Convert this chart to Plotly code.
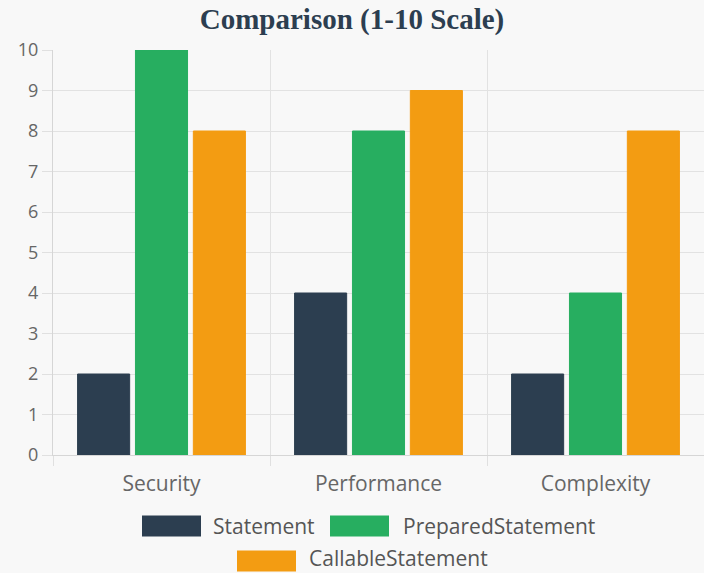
import plotly.graph_objects as go

categories = ["Security", "Performance", "Complexity"]
series_names = ["Statement", "PreparedStatement", "CallableStatement"]
statement = [2, 4, 2]
prepared = [10, 8, 4]
callable_ = [8, 9, 8]
colors = ["#2c3e50", "#27ae60", "#f39c12"]
y_ticks = list(range(0, 11))

W, H = 704, 573
ML, MR, MT, MB = 53, 0, 50, 118
PW, PH = W - ML - MR, H - MT - MB

fig = go.Figure()
for name, vals, col in zip(series_names, [statement, prepared, callable_], colors):
    fig.add_trace(go.Bar(x=categories, y=vals, name=name,
                         marker=dict(color=col, line=dict(color=col, width=1)),
                         showlegend=False))

def px_x(p):
    return (p - ML) / PW

def px_y(p):
    return (H - MB - p) / PH

# manual legend (wide swatches like the original)
legend_rows = [
    [(0, 142, 211), (1, 330, 401)],
    [(2, 237, 307)],
]
row_y = [526, 561]
text_y = [526, 558]
shapes = []
annotations = []
for r, items in enumerate(legend_rows):
    cy = row_y[r]
    for idx, bx, tx in items:
        shapes.append(dict(type="rect", xref="paper", yref="paper",
                           x0=px_x(bx), x1=px_x(bx + 59),
                           y0=px_y(cy - 10.5), y1=px_y(cy + 10.5),
                           fillcolor=colors[idx], line=dict(width=0)))
        annotations.append(dict(text=series_names[idx], xref="paper", yref="paper",
                                x=px_x(tx), y=px_y(text_y[r]), xanchor="left",
                                yanchor="middle", showarrow=False,
                                font=dict(family="Open Sans", size=21, color="#555555")))

fig.update_layout(
    width=W, height=H,
    margin=dict(l=ML, r=MR, t=MT, b=MB),
    paper_bgcolor="#f8f8f8", plot_bgcolor="#f8f8f8",
    barmode="group", bargap=0.2, bargroupgap=0.1,
    title=dict(text="<b>Comparison (1-10 Scale)</b>", x=0.5, xanchor="center",
               y=1 - 19 / H, yanchor="middle",
               font=dict(family="Liberation Serif", size=29, color="#2c3e50")),
    xaxis=dict(type="category", tickson="boundaries", showgrid=True,
               gridcolor="#e2e2e2", gridwidth=1, ticks="outside", ticklen=10,
               tickcolor="#e0e0e0", showline=True, linecolor="#d6d6d6",
               ticklabelstandoff=10,
               tickfont=dict(family="Open Sans", size=21, color="#666666"),
               range=[-0.5, 2.5]),
    yaxis=dict(range=[0, 10], tickvals=y_ticks, showgrid=True, gridcolor="#e2e2e2",
               ticks="outside", ticklen=10, tickcolor="#e0e0e0",
               showline=True, linecolor="#d6d6d6", zeroline=False,
               tickfont=dict(family="Open Sans", size=18, color="#666666")),
    shapes=shapes, annotations=annotations,
)

fig.write_html("out.html")
